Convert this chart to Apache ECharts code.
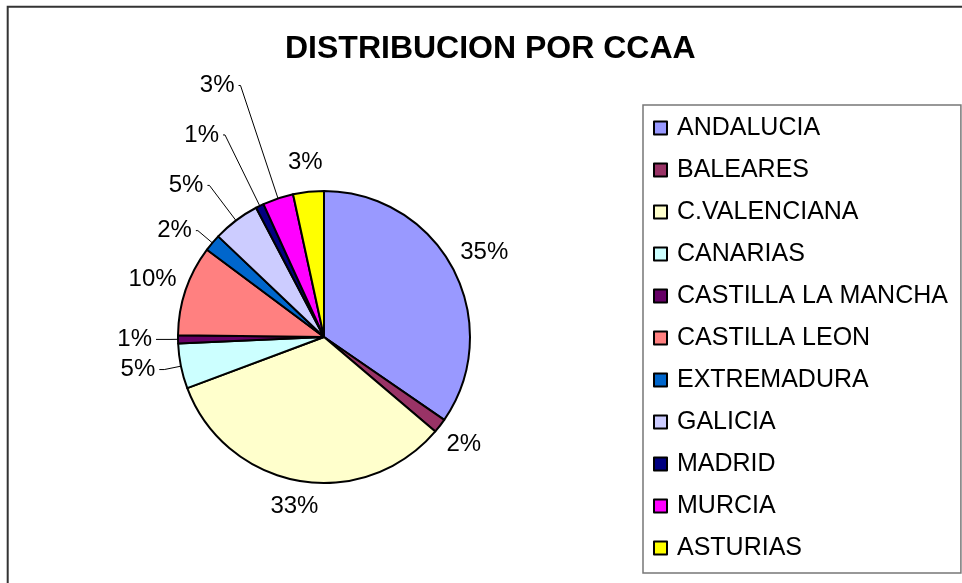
<!DOCTYPE html>
<html>
<head>
<meta charset="utf-8">
<script src="https://cdn.jsdelivr.net/npm/echarts@6/dist/echarts.min.js"></script>
<style>
  html, body { margin: 0; padding: 0; background: #fff; }
  #chart { width: 962px; height: 583px; }
</style>
</head>
<body>
<div id="chart"></div>
<script>
// regiones y su porcentaje
const categories = ['ANDALUCIA', 'BALEARES', 'C.VALENCIANA', 'CANARIAS', 'CASTILLA LA MANCHA',
    'CASTILLA LEON', 'EXTREMADURA', 'GALICIA', 'MADRID', 'MURCIA', 'ASTURIAS'];
const shares = [34.6, 1.6, 33.1, 5.0, 0.9, 10.0, 1.9, 5.2, 0.9, 3.4, 3.4];

// paleta clasica de Excel
const colors = ['#9999FF', '#993366', '#FFFFCC', '#CCFFFF', '#660066',
    '#FF8080', '#0066CC', '#CCCCFF', '#000080', '#FF00FF', '#FFFF00'];

// etiquetas: largo de la linea guia, tramo horizontal, con linea o centrada
const labelLen = [35, 30, 26, 17, 8, 35, 19, 44, 79, 119, 30];
const labelLen2 = [0, 0, 0, 5, 14, 0, 2, 2, 2, 2, 0];
const withLine = [false, false, false, true, true, false, true, true, true, true, false];

const data = categories.map(function (name, i) {
    return {
        name: name,
        value: shares[i],
        itemStyle: { color: colors[i] },
        label: { distanceToLabelLine: withLine[i] ? 4 : 0 },
        labelLine: { show: withLine[i], length: labelLen[i], length2: labelLen2[i] }
    };
});

const options = {
    animation: false,
    title: {
        text: 'DISTRIBUCION POR CCAA',
        left: 285,
        top: 33,
        padding: 0,
        textStyle: {
            fontFamily: 'Liberation Sans',
            fontSize: 32,
            fontWeight: 'bold',
            color: '#000'
        }
    },
    legend: {
        orient: 'vertical',
        left: 643,
        top: 105,
        padding: [8, 13, 10, 10],
        itemGap: 12,
        itemWidth: 13,
        itemHeight: 13,
        icon: 'rect',
        borderColor: '#777',
        borderWidth: 1.5,
        itemStyle: { borderColor: '#000', borderWidth: 2 },
        textStyle: {
            fontFamily: 'Liberation Sans',
            fontSize: 25,
            lineHeight: 24,
            color: '#000',
            padding: [0, 0, 6, 5]
        },
        data: categories
    },
    graphic: [{
        type: 'rect',
        shape: { x: 7.7, y: 6.7, width: 1000, height: 700 },
        style: { fill: null, stroke: '#333', lineWidth: 2 },
        silent: true
    }],
    series: [
        {
            name: 'CCAA',
            type: 'pie',
            center: [324, 337],
            radius: 146,
            startAngle: 90,
            clockwise: true,
            avoidLabelOverlap: false,
            itemStyle: { borderColor: '#000', borderWidth: 2 },
            emphasis: { disabled: true },
            label: {
                position: 'outside',
                fontFamily: 'Liberation Sans',
                fontSize: 24,
                color: '#000',
                formatter: function (p) { return Math.round(p.percent) + '%'; }
            },
            labelLine: {
                lineStyle: { color: '#000', width: 1 }
            },
            labelLayout: function (p) {
                return withLine[p.dataIndex] ? {} : { align: 'center' };
            },
            data: data
        }
    ]
};

const E = echarts.init(document.getElementById('chart'));
window.onresize = function () {
    E.resize();
};
E.setOption(options);
</script>
</body>
</html>
